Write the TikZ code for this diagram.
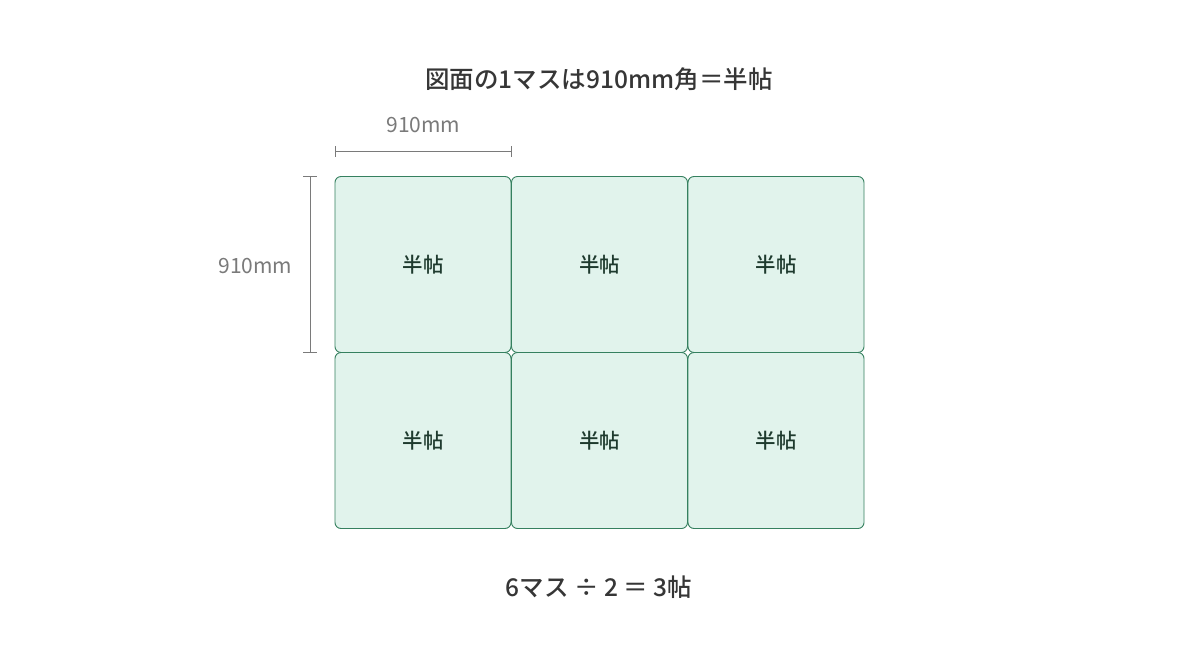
\documentclass[tikz,border=0pt]{standalone}
\usepackage{fontspec}
\setmainfont{Noto Sans CJK JP}
\newfontfamily\cjkmed{Noto Sans CJK JP Medium}
\definecolor{boxfill}{HTML}{E1F3EC}
\definecolor{boxline}{HTML}{35805F}
\definecolor{boxtext}{HTML}{1E3A2E}
\definecolor{titletext}{HTML}{363636}
\definecolor{dimgray}{HTML}{7A7A7A}
\begin{document}
\begin{tikzpicture}[x=1pt,y=-1pt,
  cell/.style={draw=boxline,line width=0.9pt,fill=boxfill,rounded corners=6pt,
    minimum width=176pt,minimum height=176pt,inner sep=0pt,
    font=\cjkmed\fontsize{20.5}{24}\selectfont,text=boxtext},
  dimline/.style={draw=dimgray,line width=0.8pt},
  dimlabel/.style={font=\fontsize{21}{25}\selectfont,text=dimgray},
  titlelabel/.style={font=\cjkmed\fontsize{24.5}{28}\selectfont,text=titletext}]
\useasboundingbox (0,0) rectangle (1200,646);
\fill[white] (0,0) rectangle (1200,646);
\node[titlelabel] (title) at (599,79) {図面の1マスは910mm角＝半帖};
\foreach \r/\yy in {1/264.5,2/440.5}{
  \foreach \c/\xx in {1/423,2/599.5,3/776}{
    \node[cell] (c\r\c) at (\xx,\yy) {\raisebox{-1.5pt}{半帖}};
  }
}
% horizontal dimension
\coordinate (h1) at (335,151);
\coordinate (h2) at (511,151);
\draw[dimline] (h1) -- (h2);
\draw[dimline] ([yshift=-5.5pt]h1) -- ([yshift=5.5pt]h1);
\draw[dimline] ([yshift=-5.5pt]h2) -- ([yshift=5.5pt]h2);
\node[dimlabel] (hl) at (423.5,125) {910mm};
% vertical dimension
\coordinate (v1) at (310,176.5);
\coordinate (v2) at (310,352.5);
\draw[dimline] (v1) -- (v2);
\draw[dimline] ([xshift=-7pt]v1) -- ([xshift=7pt]v1);
\draw[dimline] ([xshift=-7pt]v2) -- ([xshift=7pt]v2);
\node[dimlabel] (vl) at (255.5,266) {910mm};
\node[titlelabel] (eq) at (599,587) {6マス ÷ 2 ＝ 3帖};
\end{tikzpicture}
\end{document}
